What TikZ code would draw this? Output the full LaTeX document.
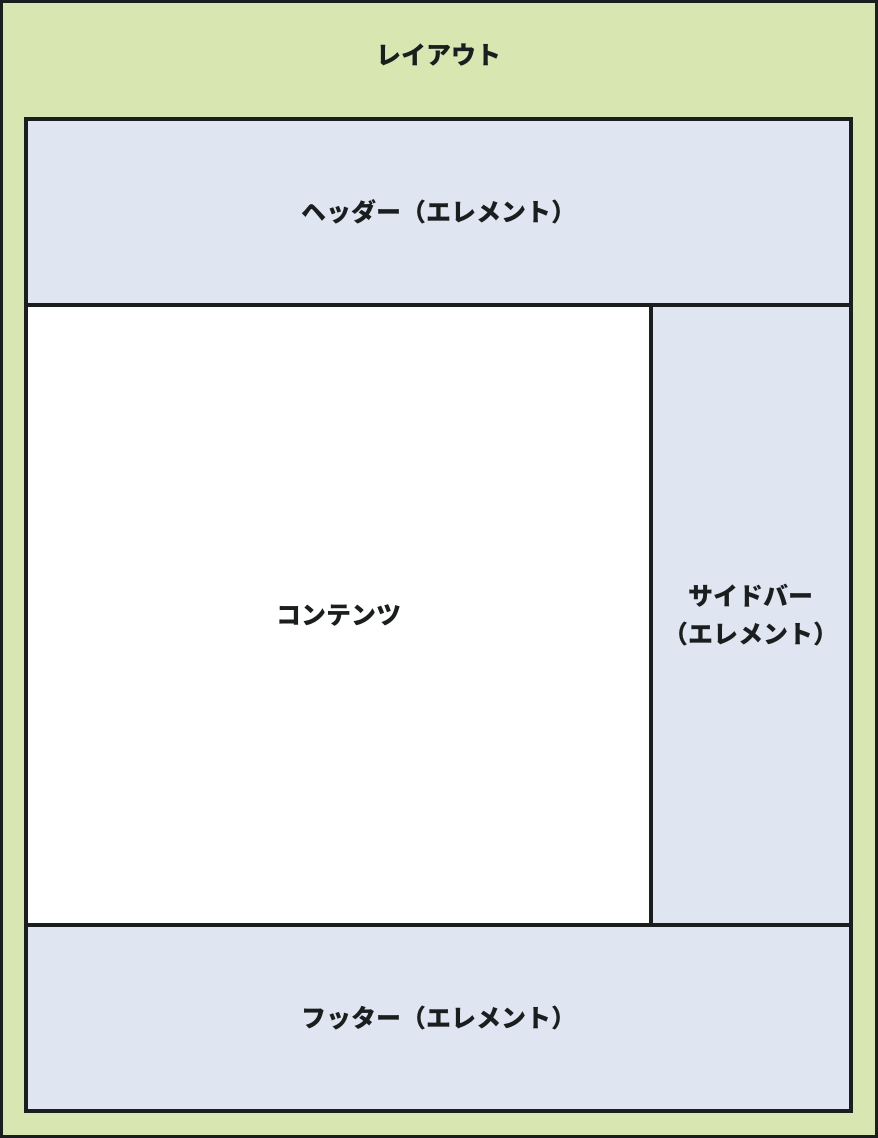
\documentclass[tikz,border=0pt]{standalone}
\usepackage{fontspec}
\setmainfont{Noto Sans CJK JP}
\usetikzlibrary{positioning}
\definecolor{layoutgreen}{HTML}{D8E7B1}
\definecolor{partblue}{HTML}{DFE6F1}
\definecolor{lineblack}{HTML}{1A1E1E}
\tikzset{
  part/.style={shape=rectangle, draw=lineblack, line width=3.2pt, fill=partblue, inner sep=0pt, outer sep=0pt, anchor=north west, align=center, font=\fontsize{25}{38}\selectfont\bfseries, text=lineblack},
}
\begin{document}
\begin{tikzpicture}[x=1pt,y=-1pt]
    \useasboundingbox (0,0) rectangle (878,1138);
    \draw[draw=lineblack, fill=layoutgreen, line width=3.4pt] (1.7,1.7) rectangle (876.3,1136.3);
    \node[font=\fontsize{25}{28}\selectfont\bfseries, text=lineblack] (layout) at (439,55) {レイアウト};

    \node[part, minimum width=825pt, minimum height=186pt] (header) at (26,119) {ヘッダー（エレメント）};
    \node[part, fill=white, minimum width=625pt, minimum height=620pt] (content) at (header.south west) {コンテンツ};
    \node[part, minimum width=200pt, minimum height=620pt] (sidebar) at (content.north east) {サイドバー\\（エレメント）};
    \node[part, minimum width=825pt, minimum height=186pt] (footer) at (content.south west) {フッター（エレメント）};

\end{tikzpicture}
\end{document}
